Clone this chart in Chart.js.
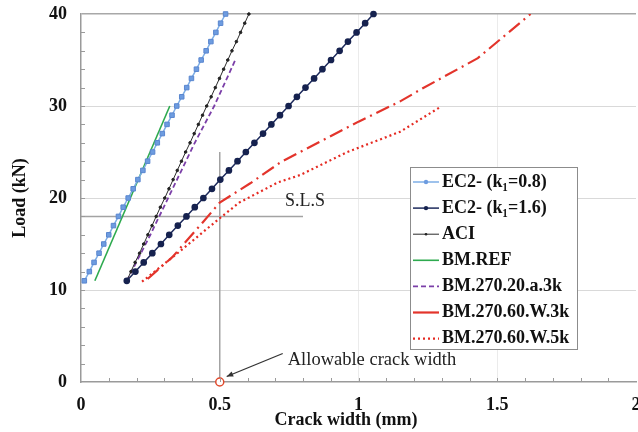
<!DOCTYPE html>
<html>
<head>
<meta charset="utf-8">
<title>Load - crack width</title>
<script src="https://cdn.jsdelivr.net/npm/chart.js@4/dist/chart.umd.min.js"></script>
<style>
  html, body { margin: 0; padding: 0; background: #fff; }
  #crackChart { display: block; }
</style>
</head>
<body>
<canvas id="crackChart" width="638" height="432"></canvas>
<script>
// Load steps (kN) used by the code predictions
const codeLoads = [11, 12, 13, 14, 15, 16, 17, 18, 19, 20, 21, 22, 23, 24, 25,
                   26, 27, 28, 29, 30, 31, 32, 33, 34, 35, 36, 37, 38, 39, 40];

// Crack widths (mm) at each load step
const ec2LowK = [0.012, 0.030, 0.047, 0.065, 0.082, 0.100, 0.117, 0.135, 0.152, 0.170,
                 0.188, 0.205, 0.223, 0.240, 0.258, 0.275, 0.293, 0.310, 0.328, 0.345,
                 0.363, 0.381, 0.398, 0.416, 0.433, 0.451, 0.468, 0.486, 0.503, 0.521];
const ec2HighK = [0.165, 0.196, 0.226, 0.257, 0.288, 0.318, 0.349, 0.380, 0.410, 0.441,
                  0.472, 0.502, 0.533, 0.564, 0.594, 0.625, 0.656, 0.686, 0.717, 0.748,
                  0.778, 0.809, 0.840, 0.870, 0.901, 0.932, 0.962, 0.993, 1.024, 1.054];
const aciWidth = [0.165, 0.180, 0.195, 0.211, 0.226, 0.241, 0.256, 0.271, 0.286, 0.302,
                  0.317, 0.332, 0.347, 0.362, 0.377, 0.393, 0.408, 0.423, 0.438, 0.453,
                  0.469, 0.484, 0.499, 0.514, 0.529, 0.544, 0.560, 0.575, 0.590, 0.605];

// Test beams
const refWidth = [0.05, 0.32];
const refLoads = [11, 30];
const a3kWidth = [0.165, 0.25, 0.33, 0.41, 0.48, 0.556];
const a3kLoads = [11, 16, 21, 26, 30, 35];
const w3kWidth = [0.24, 0.33, 0.44, 0.50, 0.61, 0.72, 0.86, 1.00, 1.15, 1.23, 1.43, 1.62];
const w3kLoads = [11.2, 13.6, 17.4, 19.5, 21.6, 23.9, 26.1, 28.3, 30.5, 31.9, 35.2, 40];
const w5kWidth = [0.22, 0.36, 0.50, 0.57, 0.71, 0.79, 0.96, 1.15, 1.29];
const w5kLoads = [10.9, 14.3, 17.8, 19.5, 21.7, 22.5, 25.0, 27.2, 29.8];

// Axis ticks
const xTicks = [0, 0.5, 1, 1.5, 2];
const yTicks = [0, 10, 20, 30, 40];

// Service limit state and allowable crack width
const slsLoad = 18;
const slsEnd = 0.8;
const allowableWidth = 0.5;
const allowableTop = 25;

const pts = (xs, ys) => xs.map((x, i) => ({ x: x, y: ys[i] }));

const SERIF = '"Liberation Serif", "Times New Roman", serif';

// little inward minor ticks on both axes
const minorTicks = {
  id: 'minorTicks',
  afterDraw(chart) {
    const { ctx, chartArea, scales } = chart;
    ctx.save();
    ctx.strokeStyle = '#9a9a9a';
    ctx.lineWidth = 1;
    ctx.beginPath();
    for (let i = 1; i < 20; i++) {
      const px = Math.round(scales.x.getPixelForValue(i / 10)) + 0.5;
      ctx.moveTo(px, chartArea.bottom);
      ctx.lineTo(px, chartArea.bottom - 4);
    }
    for (let v = 2; v < 40; v += 2) {
      const py = Math.round(scales.y.getPixelForValue(v)) + 0.5;
      ctx.moveTo(chartArea.left, py);
      ctx.lineTo(chartArea.left + 4, py);
    }
    ctx.stroke();

    // x axis title sits a little left of the plot centre
    ctx.fillStyle = '#111';
    ctx.font = 'bold 18px ' + SERIF;
    ctx.textAlign = 'center';
    ctx.textBaseline = 'middle';
    ctx.fillText('Crack width (mm)', scales.x.getPixelForValue(0.955), 420);
    ctx.restore();
  }
};

// SLS line, allowable crack width line and note
const limits = {
  id: 'limits',
  beforeDatasetsDraw(chart) {
    const { ctx, scales } = chart;
    const x = scales.x, y = scales.y;
    ctx.save();
    ctx.strokeStyle = '#a3a3a3';
    ctx.lineWidth = 1.5;
    ctx.beginPath();
    ctx.moveTo(x.getPixelForValue(0), y.getPixelForValue(slsLoad));
    ctx.lineTo(x.getPixelForValue(slsEnd), y.getPixelForValue(slsLoad));
    ctx.moveTo(x.getPixelForValue(allowableWidth), y.getPixelForValue(0));
    ctx.lineTo(x.getPixelForValue(allowableWidth), y.getPixelForValue(allowableTop));
    ctx.stroke();

    ctx.fillStyle = '#222';
    ctx.font = '18px ' + SERIF;
    ctx.textBaseline = 'middle';
    ctx.fillText('S.L.S', x.getPixelForValue(0.735), y.getPixelForValue(19.6));
    ctx.restore();
  },
  afterDatasetsDraw(chart) {
    const { ctx, scales } = chart;
    const x = scales.x, y = scales.y;
    const sx = x.getPixelForValue(0.727), sy = y.getPixelForValue(3.1);
    const ex = x.getPixelForValue(0.525), ey = y.getPixelForValue(0.6);
    ctx.save();
    ctx.strokeStyle = '#333';
    ctx.fillStyle = '#333';
    ctx.lineWidth = 1.2;
    ctx.beginPath();
    ctx.moveTo(sx, sy);
    ctx.lineTo(ex, ey);
    ctx.stroke();
    const ang = Math.atan2(ey - sy, ex - sx);
    ctx.beginPath();
    ctx.moveTo(ex, ey);
    ctx.lineTo(ex - 7 * Math.cos(ang - 0.4), ey - 7 * Math.sin(ang - 0.4));
    ctx.lineTo(ex - 7 * Math.cos(ang + 0.4), ey - 7 * Math.sin(ang + 0.4));
    ctx.closePath();
    ctx.fill();

    ctx.fillStyle = '#222';
    ctx.font = '18.5px ' + SERIF;
    ctx.textBaseline = 'middle';
    ctx.fillText('Allowable crack width', x.getPixelForValue(0.745), y.getPixelForValue(2.4));
    ctx.restore();
  }
};

// legend box inside the plot, lower right
const legendBox = {
  id: 'legendBox',
  afterDraw(chart) {
    const ctx = chart.ctx;
    const left = 410, top = 167, width = 167, height = 182, rowH = 26.1;
    ctx.save();
    ctx.fillStyle = '#fff';
    ctx.fillRect(left, top, width, height);
    ctx.strokeStyle = '#8c8c8c';
    ctx.lineWidth = 1;
    ctx.strokeRect(left + 0.5, top + 0.5, width, height);

    const items = chart.data.datasets.filter(d => !d.hideInLegend);
    items.forEach((ds, i) => {
      const cy = top + 15 + i * rowH;
      ctx.strokeStyle = ds.borderColor;
      ctx.lineWidth = ds.borderWidth;
      ctx.setLineDash(ds.legendDash || ds.borderDash || []);
      ctx.beginPath();
      ctx.moveTo(left + 3, cy);
      ctx.lineTo(left + 29, cy);
      ctx.stroke();
      ctx.setLineDash([]);
      if (ds.pointRadius > 0) {
        ctx.fillStyle = ds.pointBackgroundColor;
        ctx.beginPath();
        ctx.arc(left + 16, cy, Math.min(ds.pointRadius, 2.2), 0, Math.PI * 2);
        ctx.fill();
      }
      ctx.fillStyle = '#111';
      ctx.font = 'bold 18px ' + SERIF;
      ctx.textBaseline = 'middle';
      ctx.fillText(ds.label, left + 32, cy);
    });
    ctx.restore();
  }
};

// keep the plot edges fixed: no extra room for the outermost tick labels
const noEdgePadding = s => {
  s.paddingTop = 0;
  s.paddingBottom = 0;
  s.paddingLeft = 0;
  s.paddingRight = 0;
};

new Chart(document.getElementById('crackChart'), {
  type: 'scatter',
  data: {
    datasets: [
      {
        label: 'EC2- (k\u2081=0.8)',
        data: pts(ec2LowK, codeLoads),
        showLine: true,
        borderColor: '#7eaee6',
        borderWidth: 1.5,
        pointStyle: 'rect',
        pointRadius: 3.2,
        pointBackgroundColor: '#6d9ce0',
        pointBorderColor: '#5a86cf',
        pointBorderWidth: 1,
        clip: 6
      },
      {
        label: 'EC2- (k\u2081=1.6)',
        data: pts(ec2HighK, codeLoads),
        showLine: true,
        borderColor: '#1d2a5c',
        borderWidth: 1.5,
        pointRadius: 2.6,
        pointBackgroundColor: '#16224f',
        pointBorderColor: '#16224f',
        clip: 6
      },
      {
        label: 'ACI',
        data: pts(aciWidth, codeLoads),
        showLine: true,
        borderColor: '#2b2b2b',
        borderWidth: 1,
        pointRadius: 1.3,
        pointBackgroundColor: '#222',
        pointBorderColor: '#222',
        clip: 6
      },
      {
        label: 'BM.REF',
        data: pts(refWidth, refLoads),
        showLine: true,
        borderColor: '#2eaa4f',
        borderWidth: 1.6,
        pointRadius: 0
      },
      {
        label: 'BM.270.20.a.3k',
        data: pts(a3kWidth, a3kLoads),
        showLine: true,
        borderColor: '#7b3fa8',
        borderWidth: 1.8,
        borderDash: [5, 3],
        pointRadius: 0
      },
      {
        label: 'BM.270.60.W.3k',
        data: pts(w3kWidth, w3kLoads),
        showLine: true,
        borderColor: '#e3342b',
        borderWidth: 2.2,
        borderDash: [14, 5, 2, 5],
        legendDash: [],
        pointRadius: 0
      },
      {
        label: 'BM.270.60.W.5k',
        data: pts(w5kWidth, w5kLoads),
        showLine: true,
        borderColor: '#e52a22',
        borderWidth: 2.2,
        borderDash: [2, 3],
        pointRadius: 0
      },
      {
        label: 'allowable',
        hideInLegend: true,
        data: [{ x: allowableWidth, y: 0 }],
        pointRadius: 4,
        pointBackgroundColor: '#fff',
        pointBorderColor: '#e0492c',
        pointBorderWidth: 1.5,
        clip: false
      }
    ]
  },
  options: {
    responsive: false,
    animation: false,
    events: [],
    layout: { autoPadding: false, padding: { left: 0, top: 14, right: 2, bottom: 0 } },
    plugins: {
      legend: { display: false },
      tooltip: { enabled: false }
    },
    scales: {
      x: {
        type: 'linear',
        min: 0,
        max: 2,
        afterFit: s => { s.height = 50; noEdgePadding(s); },
        afterBuildTicks: s => { s.ticks = xTicks.map(v => ({ value: v })); },
        border: { color: '#9a9a9a', width: 1.5 },
        grid: {
          drawTicks: false,
          color: c => (c.tick.value === 1 || c.tick.value === 1.5) ? '#ebebeb' : 'rgba(0,0,0,0)'
        },
        ticks: {
          padding: 13,
          color: '#111',
          font: { family: SERIF, size: 18, weight: 'bold' },
          callback: v => String(v)
        },
        title: { display: false }
      },
      y: {
        type: 'linear',
        min: 0,
        max: 40,
        afterFit: s => { s.width = 81; noEdgePadding(s); },
        afterBuildTicks: s => { s.ticks = yTicks.map(v => ({ value: v })); },
        border: { color: '#9a9a9a', width: 1.5 },
        grid: {
          drawTicks: false,
          lineWidth: c => c.tick.value === 40 ? 1.5 : 1,
          color: c => c.tick.value === 40 ? '#a8a8a8' : (c.tick.value === 0 ? 'rgba(0,0,0,0)' : '#d9d9d9')
        },
        ticks: {
          padding: 14,
          color: '#111',
          font: { family: SERIF, size: 18, weight: 'bold' }
        },
        title: {
          display: true,
          text: 'Load (kN)',
          color: '#111',
          padding: { top: 10, bottom: 0 },
          font: { family: SERIF, size: 18, weight: 'bold' }
        }
      }
    }
  },
  plugins: [limits, minorTicks, legendBox]
});
</script>
</body>
</html>
